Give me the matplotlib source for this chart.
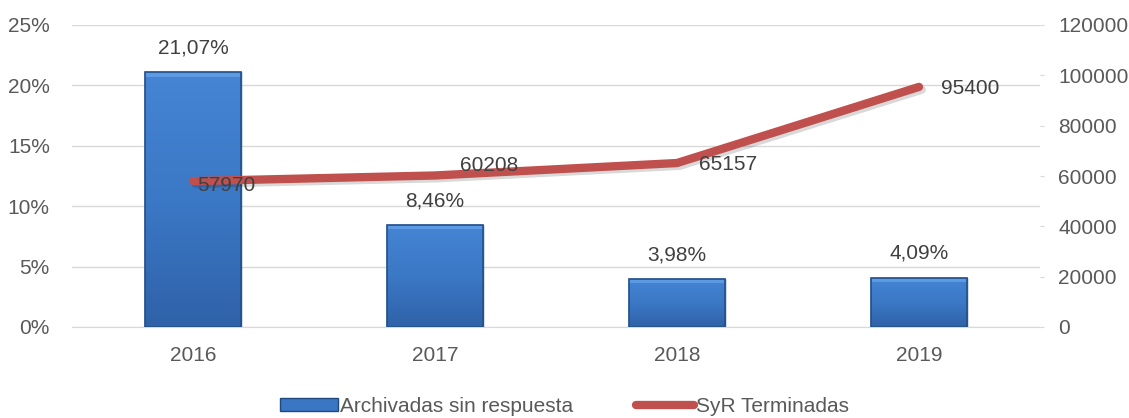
import numpy as np
import matplotlib
matplotlib.use("Agg")
from matplotlib import pyplot as plt
from matplotlib.lines import Line2D
from matplotlib.patches import Patch
import matplotlib.patheffects as pe

years = ['2016', '2017', '2018', '2019']
archivadas = [21.07, 8.46, 3.98, 4.09]
archivadas_lbl = ['21,07%', '8,46%', '3,98%', '4,09%']
terminadas = [57970, 60208, 65157, 95400]

plt.rcParams['font.family'] = ['Liberation Sans Narrow', 'Liberation Sans', 'DejaVu Sans']
txt_col = '#595959'
fs = 15

fig = plt.figure(figsize=(11.29, 4.18), dpi=100)
ax = fig.add_axes([72 / 1129, 1 - 327 / 418, 968 / 1129, 302 / 418])
x = np.arange(len(years))

# bars with a gradient fill
bars = ax.bar(x, archivadas, width=0.4, color='#3A76C4', edgecolor='#1F4A80',
              linewidth=1.0, zorder=2)
grad = np.linspace(0, 1, 256).reshape(-1, 1)
cmap = matplotlib.colors.LinearSegmentedColormap.from_list(
    'bl', ['#2F62A8', '#3B78C6', '#4585D4'])
for b in bars:
    x0, y0 = b.get_x(), b.get_y()
    w, h = b.get_width(), b.get_height()
    im = ax.imshow(grad, extent=[x0, x0 + w, y0, y0 + h], aspect='auto',
                   cmap=cmap, origin='lower', zorder=2.5)
    im.set_clip_path(b)
    # bevel top strip
    ax.add_patch(plt.Rectangle((x0, y0 + h - 0.35), w, 0.35, color='#5C9BE3',
                               zorder=2.6, lw=0))
    ax.add_patch(plt.Rectangle((x0, y0), w, h, fill=False, ec='#23508A',
                               lw=1.2, zorder=2.7))

for xi, v, lbl in zip(x, archivadas, archivadas_lbl):
    ax.text(xi, v + 2.0, lbl, ha='center', va='center', fontsize=fs, color='#404040',
            zorder=5)

ax.set_xlim(-0.5, 3.5)
ax.set_ylim(0, 25)
ax.set_yticks(np.arange(0, 26, 5))
ax.set_yticklabels([f'{t}%' for t in range(0, 26, 5)])
ax.set_xticks(x)
ax.set_xticklabels(years)
ax.grid(axis='y', color='#D9D9D9', lw=1, zorder=0)
ax.set_axisbelow(True)
for s in ['top', 'right', 'left']:
    ax.spines[s].set_visible(False)
ax.spines['bottom'].set_color('#D9D9D9')
ax.tick_params(axis='y', colors=txt_col, labelsize=fs, length=0, pad=16)
ax.tick_params(axis='x', colors=txt_col, labelsize=fs, length=0, pad=14)

ax2 = ax.twinx()
ax2.set_ylim(0, 120000)
ax2.set_yticks(np.arange(0, 120001, 20000))
for s in ['top', 'right', 'left', 'bottom']:
    ax2.spines[s].set_visible(False)
ax2.tick_params(axis='y', colors=txt_col, labelsize=fs, length=3, color='#D9D9D9', pad=10)

ax2.plot(x, terminadas, color='#C0504D', lw=6, solid_capstyle='round',
         solid_joinstyle='round', zorder=4,
         path_effects=[pe.SimpleLineShadow(offset=(2, -2), alpha=0.15, shadow_color='black'),
                       pe.Normal()])

offs = [(3, -3), (18, 7), (16, -1), (16, -1)]
for xi, v, o in zip(x, terminadas, offs):
    ax2.annotate(str(v), (xi, v), xytext=o, textcoords='offset points',
                 ha='left', va='center', fontsize=fs, color='#404040', zorder=6)

handles = [Patch(facecolor='#3A76C4', edgecolor='#1F4A80'),
           Line2D([0], [0], color='#C0504D', lw=6, solid_capstyle='round')]
fig.legend(handles, ['Archivadas sin respuesta', 'SyR Terminadas'], loc='lower center',
           bbox_to_anchor=(0.5, -0.04), ncol=2, frameon=False, fontsize=fs,
           labelcolor=txt_col, handlelength=2.8, handletextpad=0.1, columnspacing=3,
           handleheight=0.6)

fig.savefig('out.png', dpi=100)
